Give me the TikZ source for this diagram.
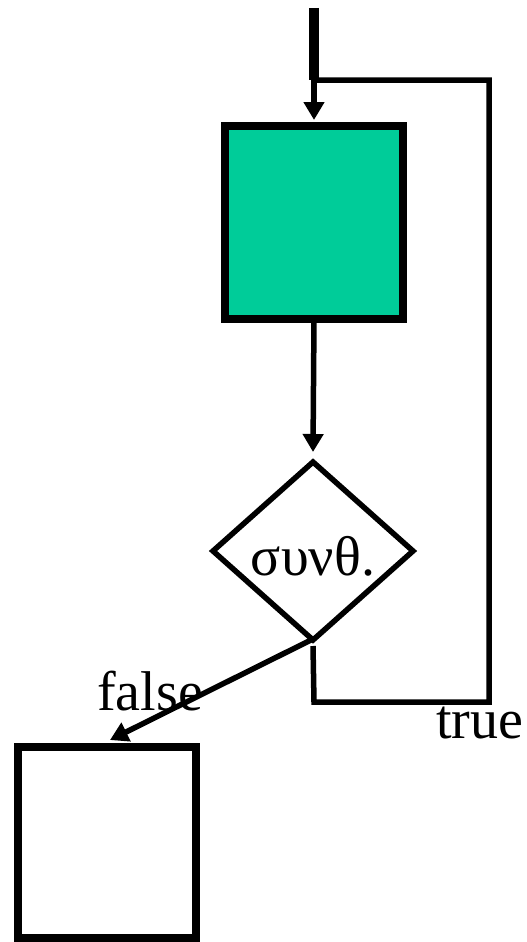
\documentclass[tikz,border=0pt]{standalone}
\usepackage{fontspec}
\setmainfont{Liberation Serif}
\usetikzlibrary{shapes.geometric,arrows.meta}
\definecolor{boxgreen}{RGB}{0,204,153}
\begin{document}
\begin{tikzpicture}[x=1pt,y=-1pt,
  flow/.style={line width=5.5pt,line join=miter},
  arrowline/.style={flow,-{Triangle[length=18pt,width=20pt]}},
  procbox/.style={draw,rectangle,inner sep=0pt,outer sep=0pt},
  decision/.style={draw,diamond,line width=5.5pt,inner sep=0pt,outer sep=0pt,
    minimum width=200pt,minimum height=178pt},
  lbl/.style={inner sep=0pt,font=\fontsize{56}{60}\selectfont}]
  \useasboundingbox (0,0) rectangle (527,942);

  % boxes and decision
  \node[procbox,fill=boxgreen,line width=8pt,minimum width=178pt,minimum height=193pt]
    (work) at (314,222.5) {};
  \node[decision] (cond) at (313,551)
    {\raisebox{-24pt}[0pt][0pt]{\fontsize{56}{60}\selectfont συνθ.}};
  \node[procbox,line width=8pt,minimum width=178pt,minimum height=191pt]
    (done) at (107,842.5) {};

  % entry line and loop junction
  \coordinate (entry) at (314,8);
  \coordinate (join) at (314,80);
  \coordinate (loopA) at (314,702);
  \coordinate (loopB) at (489,702);
  \coordinate (loopC) at (489,80);
  \draw[line width=10pt] (entry) -- (join);

  % connectors
  \draw[arrowline] (join) -- ([yshift=6pt]work.north);
  \draw[arrowline] (work.south) -- ([yshift=10pt]cond.north);
  \draw[flow] ([yshift=-6pt]cond.south) -- (loopA) -- (loopB) -- (loopC) -- (join);
  \draw[arrowline] ([xshift=-2pt]cond.south) -- ([xshift=3pt,yshift=7pt]done.north);

  % branch labels
  \node[lbl,anchor=base west] (lfalse) at (97,710) {false};
  \node[lbl,anchor=base west] (ltrue) at (436,738) {true};
\end{tikzpicture}
\end{document}
